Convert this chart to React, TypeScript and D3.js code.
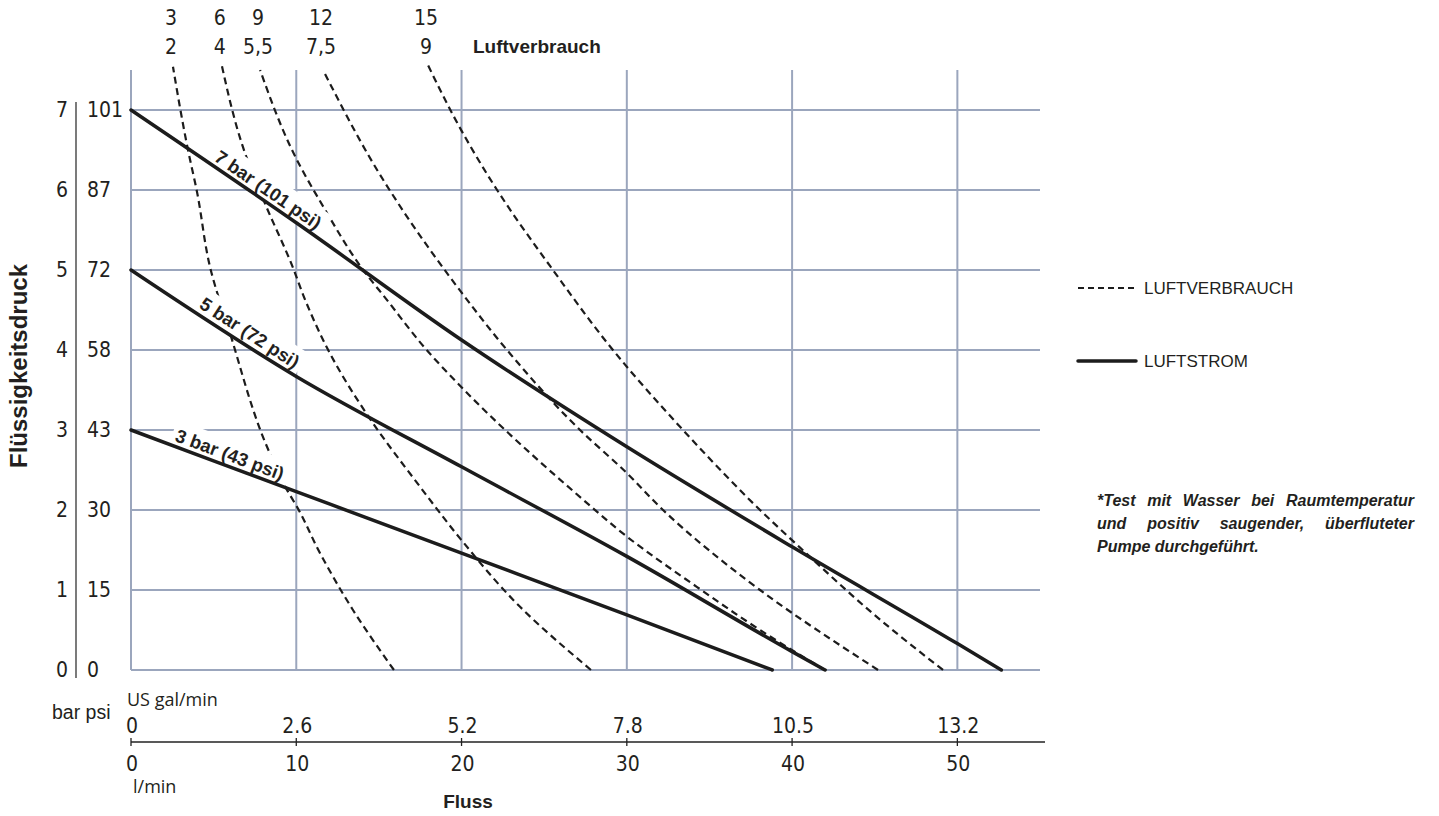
import React, { useEffect, useRef } from "react";
import * as d3 from "d3";

// ---------- data ----------
const barTicks = [0, 1, 2, 3, 4, 5, 6, 7];
const psiTicks = ["0", "15", "30", "43", "58", "72", "87", "101"];
const flowTicks = [0, 10, 20, 30, 40, 50];
const galTicks = ["0", "2.6", "5.2", "7.8", "10.5", "13.2"];

const consumptionTop = ["3", "6", "9", "12", "15"];
const consumptionBottom = ["2", "4", "5,5", "7,5", "9"];

// air consumption curves: [flow l/min, pressure bar]
const air1: [number, number][] = [[2.54, 7.54], [3.45, 6.5], [3.99, 5.98], [4.78, 5.04], [5.99, 4.21], [8.23, 2.79], [9.44, 2.25], [10.04, 2.04], [11.44, 1.46], [13.43, 0.75], [15.91, 0]];
const air2: [number, number][] = [[5.49, 7.56], [6.9, 6.46], [8.11, 5.83], [9.78, 5.04], [10.53, 4.63], [12.24, 3.88], [14.36, 3.17], [17.49, 2.29], [19.97, 1.63], [23.54, 0.79], [27.83, 0]];
const air3: [number, number][] = [[7.81, 7.5], [10.03, 6.38], [11.64, 5.79], [14.05, 5.0], [15.47, 4.63], [17.89, 4.0], [19.97, 3.54], [27.35, 2.13], [29.99, 1.67], [34.23, 1.04], [38.06, 0.5], [41.99, 0]];
const air4: [number, number][] = [[11.62, 7.5], [15.07, 6.19], [20.03, 4.71], [22.75, 4.0], [27.17, 3.0], [30.01, 2.46], [32.19, 2.0], [38.06, 1.0], [45.2, 0]];
const air5: [number, number][] = [[17.97, 7.56], [20.03, 6.73], [22.15, 6.0], [25.53, 5.0], [29.16, 4.0], [33.4, 3.0], [38.06, 2.0], [40.48, 1.53], [45.32, 0.63], [49.13, 0]];

// air flow (pump) curves
const flow7bar: [number, number][] = [[0, 7], [10, 5.59], [20, 4.125], [30, 2.79], [40, 1.54], [50, 0.33], [52.66, 0]];
const flow5bar: [number, number][] = [[0, 5], [10, 3.67], [20, 2.54], [30, 1.42], [40, 0.23], [42.0, 0]];
const flow3bar: [number, number][] = [[0, 3], [10, 2.23], [20, 1.46], [30, 0.69], [38.8, 0]];

const pressureLabels = ["7 bar (101 psi)", "5 bar (72 psi)", "3 bar (43 psi)"];
const legendLabels = ["LUFTVERBRAUCH", "LUFTSTROM"];
const noteLines = [
  "*Test mit Wasser bei Raumtemperatur",
  "und positiv saugender, überfluteter",
  "Pumpe durchgeführt.",
];

// ---------- style ----------
const NARROW = "'Liberation Sans Narrow', 'Arial Narrow', 'DejaVu Sans Condensed', sans-serif";
const SANS = "'Liberation Sans', Arial, Helvetica, sans-serif";
const HUMAN = "'Open Sans', 'Noto Sans', sans-serif";
const GRID = "#9ba6bd";
const INK = "#1c1c1c";
const TXT = "#231f20";

function valueAt(series: [number, number][], f: number) {
  for (let i = 0; i < series.length - 1; i++) {
    const [x0, y0] = series[i];
    const [x1, y1] = series[i + 1];
    if (f >= x0 && f <= x1) return y0 + ((f - x0) / (x1 - x0)) * (y1 - y0);
  }
  return series[series.length - 1][1];
}

export default function App() {
  const ref = useRef<SVGSVGElement>(null);

  useEffect(() => {
    const svg = d3.select(ref.current);
    svg.selectAll("*").remove();

    const x = d3.scaleLinear().domain([0, 55]).range([131, 1040]);
    const y = d3.scaleLinear().domain([0, 7.5]).range([670, 70]);

    // grid
    const g = svg.append("g");
    g.selectAll("line.h")
      .data(barTicks)
      .join("line")
      .attr("x1", x(0))
      .attr("x2", x(55))
      .attr("y1", (d) => y(d))
      .attr("y2", (d) => y(d))
      .attr("stroke", GRID)
      .attr("stroke-width", 2);
    g.selectAll("line.v")
      .data(flowTicks)
      .join("line")
      .attr("x1", (d) => x(d))
      .attr("x2", (d) => x(d))
      .attr("y1", y(7.5))
      .attr("y2", y(0))
      .attr("stroke", GRID)
      .attr("stroke-width", 2);

    // consumption (dashed) curves
    const line = d3
      .line<[number, number]>()
      .x((d) => x(d[0]))
      .y((d) => y(d[1]))
      .curve(d3.curveMonotoneY);
    const airCurves = [air1, air2, air3, air4, air5];
    svg
      .append("g")
      .selectAll("path")
      .data(airCurves)
      .join("path")
      .attr("d", (d) => line([...d].reverse()) as string)
      .attr("fill", "none")
      .attr("stroke", INK)
      .attr("stroke-width", 2.2)
      .attr("stroke-dasharray", "7,4.5");

    // consumption labels on top
    airCurves.forEach((c, i) => {
      const cx = x(c[0][0]) - 2;
      svg.append("text").attr("x", cx).attr("y", 25).attr("text-anchor", "middle")
        .attr("font-family", NARROW).attr("font-size", 21).attr("fill", TXT).text(consumptionTop[i]);
      svg.append("text").attr("x", cx).attr("y", 54).attr("text-anchor", "middle")
        .attr("font-family", NARROW).attr("font-size", 21).attr("fill", TXT).text(consumptionBottom[i]);
    });
    svg.append("text").attr("x", 473).attr("y", 53).attr("font-family", SANS).attr("font-weight", "bold")
      .attr("font-size", 19).attr("fill", TXT).text("Luftverbrauch");

    // pressure curve labels (on white boxes) then the solid curves
    const flowCurves = [flow7bar, flow5bar, flow3bar];
    const labelAt = [4.8, 3.9, 2.5];
    flowCurves.forEach((c, i) => {
      const f = labelAt[i];
      const px = x(f), py = y(valueAt(c, f));
      const px2 = x(f + 2), py2 = y(valueAt(c, f + 2));
      const ang = (Math.atan2(py2 - py, px2 - px) * 180) / Math.PI;
      const lg = svg.append("g").attr("transform", `translate(${px},${py}) rotate(${ang})`);
      const rect = lg.append("rect").attr("fill", "#fff");
      const t = lg.append("text")
        .attr("y", -5)
        .attr("font-family", SANS).attr("font-weight", "bold").attr("font-size", 18.5)
        .attr("fill", TXT)
        .text(pressureLabels[i]);
      const bb = (t.node() as SVGTextElement).getBBox();
      rect.attr("x", bb.x - 4).attr("y", bb.y - 4).attr("width", bb.width + 8).attr("height", -bb.y + 4);
    });
    const sline = d3
      .line<[number, number]>()
      .x((d) => x(d[0]))
      .y((d) => y(d[1]))
      .curve(d3.curveMonotoneX);
    svg
      .append("g")
      .selectAll("path")
      .data(flowCurves)
      .join("path")
      .attr("d", (d) => sline(d) as string)
      .attr("fill", "none")
      .attr("stroke", INK)
      .attr("stroke-width", 3.5)
      .attr("stroke-linecap", "round");

    // left axis labels
    barTicks.forEach((b, i) => {
      svg.append("text").attr("x", 68).attr("y", y(b) + 7).attr("text-anchor", "end")
        .attr("font-family", NARROW).attr("font-size", 21).attr("fill", TXT).text(String(b));
      svg.append("text").attr("x", 87).attr("y", y(b) + 7).attr("text-anchor", "start")
        .attr("font-family", NARROW).attr("font-size", 21).attr("fill", TXT).text(psiTicks[i]);
    });
    svg.append("line").attr("x1", 76).attr("x2", 76).attr("y1", y(7) - 8).attr("y2", y(0) + 8)
      .attr("stroke", "#333").attr("stroke-width", 1.3);
    svg.append("text").attr("transform", `translate(27,366) rotate(-90)`).attr("text-anchor", "middle")
      .attr("font-family", SANS).attr("font-weight", "bold").attr("font-size", 24).attr("fill", TXT)
      .text("Flüssigkeitsdruck");

    // bottom axis
    svg.append("text").attr("x", 52).attr("y", 719).attr("font-family", SANS).attr("font-size", 19.5)
      .attr("fill", TXT).text("bar psi");
    svg.append("text").attr("x", 127).attr("y", 706).attr("font-family", HUMAN).attr("font-size", 18)
      .attr("fill", TXT).text("US gal/min");
    svg.append("line").attr("x1", x(0)).attr("x2", 1045).attr("y1", 742).attr("y2", 742)
      .attr("stroke", "#222").attr("stroke-width", 1.3);
    flowTicks.forEach((t, i) => {
      svg.append("line").attr("x1", x(t)).attr("x2", x(t)).attr("y1", 738).attr("y2", 746)
        .attr("stroke", "#222").attr("stroke-width", 1.3);
      svg.append("text").attr("x", x(t) + 1).attr("y", 733).attr("text-anchor", "middle")
        .attr("font-family", NARROW).attr("font-size", 21).attr("fill", TXT).text(galTicks[i]);
      svg.append("text").attr("x", x(t) + 1).attr("y", 771).attr("text-anchor", "middle")
        .attr("font-family", NARROW).attr("font-size", 21).attr("fill", TXT).text(String(t));
    });
    svg.append("text").attr("x", 133).attr("y", 793).attr("font-family", HUMAN).attr("font-size", 18)
      .attr("fill", TXT).text("l/min");
    svg.append("text").attr("x", 468).attr("y", 808).attr("text-anchor", "middle").attr("font-family", SANS)
      .attr("font-weight", "bold").attr("font-size", 19).attr("fill", TXT).text("Fluss");

    // legend
    const lx0 = 1078, lx1 = 1136;
    svg.append("line").attr("x1", lx0).attr("x2", lx1).attr("y1", 288).attr("y2", 288)
      .attr("stroke", INK).attr("stroke-width", 2.2).attr("stroke-dasharray", "6,4");
    svg.append("line").attr("x1", lx0).attr("x2", lx1).attr("y1", 361).attr("y2", 361)
      .attr("stroke", INK).attr("stroke-width", 3.5).attr("stroke-linecap", "round");
    [288, 361].forEach((yy, i) => {
      svg.append("text").attr("x", lx1 + 8).attr("y", yy + 6).attr("font-family", SANS).attr("font-size", 17)
        .attr("fill", TXT).text(legendLabels[i]);
    });

    // note (justified)
    const nx0 = 1097, nx1 = 1414;
    noteLines.forEach((ln, i) => {
      const yy = 506 + i * 23;
      const words = ln.split(" ");
      const nodes = words.map((w) =>
        svg.append("text").attr("y", yy).attr("font-family", SANS).attr("font-weight", "bold")
          .attr("font-style", "italic").attr("font-size", 16).attr("fill", TXT).text(w)
      );
      const widths = nodes.map((n) => (n.node() as SVGTextElement).getComputedTextLength());
      const total = d3.sum(widths);
      const justify = i < noteLines.length - 1;
      const gap = justify ? (nx1 - nx0 - total) / (words.length - 1) : 4.4;
      let cx = nx0;
      nodes.forEach((n, k) => {
        n.attr("x", cx);
        cx += widths[k] + gap;
      });
    });
  }, []);

  return (
    <div style={{ position: "absolute", left: 0, top: 0 }}>
      <svg ref={ref} width={1439} height={816} style={{ display: "block", background: "#fff" }} />
    </div>
  );
}
